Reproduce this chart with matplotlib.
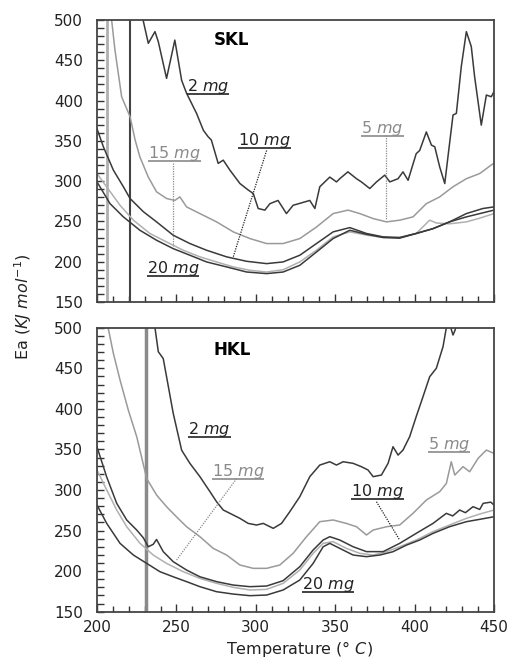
import matplotlib
matplotlib.use("Agg")
import matplotlib.pyplot as plt
from matplotlib.ticker import MultipleLocator

plt.rcParams["font.family"] = ["DejaVu Sans"]
plt.rcParams["mathtext.fontset"] = "dejavusans"

# ---------- SKL (top panel) ----------
skl_2mg_t = [229, 232.3, 236.5, 238.6, 243.8, 249, 253.3, 256.4, 262.7, 267, 270, 272, 276.3, 279.5,
             283.7, 290, 295.2, 298.4, 301.5, 305.7, 308.9, 314, 319.3, 323.5, 334, 337.2, 340.3,
             346.6, 350.8, 352.9, 358, 363.4, 366.5, 371.8, 376, 381.2, 384.4, 389.6, 392.7, 395.9,
             401, 403.2, 407.4, 410.6, 412.7, 415.8, 419, 421, 424.2, 426.3, 429.4, 432.6, 435.7,
             437.8, 442, 445.2, 448.3, 450]
skl_2mg_ea = [500, 471, 485.5, 473, 427.5, 475, 425, 409, 384, 363, 355, 351, 322, 326,
              313.6, 297, 289, 284.6, 266, 264, 272, 276, 259.7, 270, 276, 266, 293,
              305, 299, 303, 311.5, 303, 299, 290.8, 299, 307.4, 299, 303, 311.5, 301,
              334, 338, 361, 344.7, 342.6, 317.7, 297, 330, 382, 384, 442, 485.5, 467,
              429.6, 369.5, 406.8, 404.7, 411]

skl_5mg_t = [209.2, 211.3, 215.5, 220.8, 224, 227, 232.3, 237.5, 243.8, 249, 252.2, 256.4, 264.8,
             275.3, 285.8, 296.3, 306.8, 317.2, 327.7, 338.2, 348.7, 358.1, 365.5, 373.9, 382.3,
             390.6, 399, 407.4, 415.8, 424.2, 432.6, 441, 448.3, 450]
skl_5mg_ea = [500, 462.7, 404.7, 380, 351, 330, 305, 286.7, 278.4, 276, 280.4, 268, 259.7,
              249.4, 237, 228.7, 222.5, 222.5, 228.7, 243, 259.7, 264, 259.7, 253.5, 249.4,
              251.5, 255.6, 272, 280.4, 293, 303, 309.4, 320, 322]

skl_10mg_t = [200, 204, 210.3, 216.6, 220.8, 229.2, 237.5, 248, 258.5, 269, 281.6, 294.2, 306.8,
              317.2, 327.7, 338.2, 348.7, 359.2, 369.7, 380.2, 390.6, 401, 411.6, 422, 432.6, 443, 450]
skl_10mg_ea = [365, 342.6, 313.6, 293, 278.4, 262, 249.4, 232.8, 222.5, 214.2, 206, 200.5, 197.6,
               199.7, 208, 222.5, 237, 242.3, 235, 230.8, 230, 235, 241, 249.4, 259.7, 266, 268]

skl_15mg_t = [200, 206, 214.5, 222.9, 233.3, 243.8, 254.3, 264.8, 275.3, 285.8, 296.3, 306.8,
              317.2, 327.7, 338.2, 348.7, 359.2, 369.7, 380.2, 390.6, 401, 409.5, 413.7, 422,
              432.6, 441, 450]
skl_15mg_ea = [309.4, 293, 270, 251.5, 235, 224.5, 214.2, 206, 199.7, 193.5, 189.3, 187.2,
               190, 199.7, 214.2, 230.8, 237, 233, 230, 230, 235, 251.5, 248, 247,
               249.4, 254, 259.7]

skl_20mg_t = [200, 208.2, 216.6, 227, 237.5, 248, 258.5, 269, 281.6, 294.2, 306.8, 317.2, 327.7,
              338.2, 348.7, 359.2, 369.7, 380.2, 390.6, 401, 411.6, 422, 432.6, 450]
skl_20mg_ea = [299, 272, 255.6, 239, 226.6, 216.2, 208, 199.7, 193.5, 187.2, 185.2, 187.2, 195.5,
               212, 228.7, 239, 234, 230, 229.2, 235, 241, 249.4, 255.6, 264]

# ---------- HKL (bottom panel) ----------
hkl_2mg_t = [236.5, 238.6, 241.7, 243.8, 248, 253.3, 258.5, 264.8, 271.1, 275.3, 279.5, 283.7,
             290, 295.2, 300.5, 304.7, 311, 316.2, 321.4, 327.7, 334, 340.3, 346.6, 350.8, 355,
             361.3, 366.5, 370.7, 373.9, 379.1, 383.3, 386.4, 389.6, 392.7, 396.9, 401, 405.3,
             409.5, 413.7, 417.9, 420, 422, 424.2, 425.5, 427]
hkl_2mg_ea = [500, 470.4, 462, 439.6, 394.4, 349, 332.8, 316.4, 298, 285.5, 275.3, 271.2,
              265, 258.8, 256.8, 258.8, 252.7, 258.8, 273.2, 291.7, 316.4, 330.7, 334.8, 330.7, 334.8,
              332.8, 328.7, 324.6, 316.4, 318.4, 332.8, 353.3, 343, 349.2, 365.7, 390.3, 415,
              439.6, 450, 476.6, 500, 505, 491, 497, 510]

hkl_5mg_t = [207, 210.3, 214.5, 219.7, 225, 231.3, 237.5, 243.8, 250, 256.4, 264.8, 273.2, 281.6,
             290, 298.4, 306.8, 315.1, 323.5, 331.9, 340.3, 348.7, 357, 363.4, 369.7, 373.9, 382.3,
             390.6, 399, 407.4, 415.8, 420, 423.1, 425.3, 430.5, 434.7, 440, 445.2, 450]
hkl_5mg_ea = [500, 468.4, 435.5, 398.5, 365.7, 314, 293.8, 279.4, 267, 254.7, 242.4, 228, 219.8,
              207.5, 203.4, 203.4, 207.5, 221.9, 242.4, 260.9, 263, 258.8, 254.7, 244.5, 250.6, 254.7,
              256.8, 271.2, 287.6, 297.9, 308, 334.8, 318.4, 328.7, 322.5, 339, 349.2, 345]

hkl_10mg_t = [200, 206.1, 212.4, 218.7, 225, 229.2, 232.3, 235.4, 237.5, 241.7, 248, 256.4, 264.8,
              275.3, 285.8, 296.3, 306.8, 317.2, 327.7, 336.1, 342.4, 346.6, 352.9, 361.3, 369.7,
              380.2, 390.6, 401, 411.6, 420, 424, 428.4, 432, 436.8, 441, 443.2, 448, 450]
hkl_10mg_ea = [353, 316, 283.5, 263, 250.6, 241, 230, 233, 239, 224, 211.6, 201.3, 193,
               187, 182.8, 180.8, 181.6, 188.2, 205.4, 226, 238.3, 242.4, 238.3, 230, 224,
               224, 234.2, 246.5, 258.8, 271.2, 268, 275.3, 272, 279.4, 276, 283.5, 285, 281.4]

hkl_15mg_t = [200, 206.1, 212.4, 218.7, 227.1, 235.4, 243.8, 254.3, 264.8, 275.3, 285.8, 296.3,
              306.8, 317.2, 327.7, 336.1, 342.4, 348.7, 357, 365.5, 373.9, 382.3, 390.6, 401,
              411.6, 422, 432.6, 441, 450]
hkl_15mg_ea = [324.6, 300, 275.3, 254.7, 234.2, 219.8, 209.5, 199.3, 191, 184.9, 180, 176.7,
               177.5, 184.9, 201.3, 221.9, 234.2, 236.3, 228, 221.9, 219.8, 223.9, 230, 238.3,
               248.6, 256.8, 265, 270.3, 275.3]

hkl_20mg_t = [200, 206.1, 214.5, 222.9, 231.3, 239.6, 248, 256.4, 264.8, 275.3, 285.8, 296.3,
              306.8, 317.2, 327.7, 336.1, 342.4, 346.6, 352.9, 361.3, 369.7, 378.1, 386.4, 394.8,
              403.2, 411.6, 422, 432.6, 441, 450]
hkl_20mg_ea = [281.4, 258.8, 234.2, 219.8, 209.5, 199.3, 193, 187, 180.8, 174.6, 171.7, 169.7,
               170.5, 176.7, 189, 209.5, 230, 234.2, 228, 219.8, 217.8, 219.8, 223.9, 232,
               238.3, 246.5, 254.7, 260.9, 263.8, 267]

vlines_skl = [206.5, 220.8]
vlines_hkl = [230.6]

DARK = "#3a3a3a"
MID = "#9a9a9a"
LIGHT = "#b0b0b0"
LW = 1.1

fig = plt.figure(figsize=(5.09, 6.65), dpi=100)
ax1 = fig.add_axes([0.1906, 0.5459, 0.7799, 0.4241])
ax2 = fig.add_axes([0.1906, 0.0802, 0.7799, 0.4270])

for ax in (ax1, ax2):
    ax.set_xlim(200, 450)
    ax.set_ylim(150, 500)
    ax.xaxis.set_major_locator(MultipleLocator(50))
    ax.xaxis.set_minor_locator(MultipleLocator(10))
    ax.yaxis.set_major_locator(MultipleLocator(50))
    ax.yaxis.set_minor_locator(MultipleLocator(10))
    ax.tick_params(which="both", direction="in", colors="#333333", labelsize=11, width=1)
    ax.tick_params(which="major", length=6)
    ax.tick_params(which="minor", length=4)
    ax.tick_params(axis="y", which="both", length=5, pad=10)
    ax.tick_params(axis="x", which="both", pad=6)
    ax.tick_params(axis="both", labelcolor="#222222")
    for s in ax.spines.values():
        s.set_color("#444444")
        s.set_linewidth(1.3)

ax1.tick_params(axis="x", labelbottom=False)

# top panel
ax1.axvline(vlines_skl[0], color=LIGHT, lw=2)
ax1.axvline(vlines_skl[1], color="#444444", lw=1.5)
ax1.plot(skl_5mg_t, skl_5mg_ea, color=MID, lw=LW)
ax1.plot(skl_15mg_t, skl_15mg_ea, color=LIGHT, lw=LW)
ax1.plot(skl_20mg_t, skl_20mg_ea, color=DARK, lw=LW)
ax1.plot(skl_10mg_t, skl_10mg_ea, color=DARK, lw=LW)
ax1.plot(skl_2mg_t, skl_2mg_ea, color=DARK, lw=LW)

# bottom panel
ax2.axvline(vlines_hkl[0], color="#8a8a8a", lw=2.5)
ax2.plot(hkl_5mg_t, hkl_5mg_ea, color=MID, lw=LW)
ax2.plot(hkl_15mg_t, hkl_15mg_ea, color=LIGHT, lw=LW)
ax2.plot(hkl_20mg_t, hkl_20mg_ea, color=DARK, lw=LW)
ax2.plot(hkl_10mg_t, hkl_10mg_ea, color=DARK, lw=LW)
ax2.plot(hkl_2mg_t, hkl_2mg_ea, color=DARK, lw=LW)

ax1.text(285, 475, "SKL", fontsize=12, fontweight="bold", ha="center", va="center")
ax2.text(285, 472, "HKL", fontsize=12, fontweight="bold", ha="center", va="center")

labels = []


def mg_label(ax, x, y, s, color, pointer=None):
    t = ax.text(x, y, s + r" $\it{mg}$", fontsize=11.5, color=color, ha="left", va="center")
    labels.append((ax, t, color))
    if pointer is not None:
        (x0, y0), (x1, y1) = pointer
        ax.plot([x0, x1], [y0, y1], color=color, lw=0.9, ls=(0, (1, 1)))


mg_label(ax1, 256.4, 417, "2", "#222222")
mg_label(ax1, 232.3, 334, "15", "#8a8a8a", ((248, 322), (248, 220)))
mg_label(ax1, 289, 351, "10", "#222222", ((306.8, 338), (285.8, 206)))
mg_label(ax1, 366.5, 365, "5", "#8a8a8a", ((382.3, 357), (382.3, 251.5)))
mg_label(ax1, 231.3, 191.5, "20", "#222222")

mg_label(ax2, 257.5, 374, "2", "#222222")
mg_label(ax2, 272.1, 322.5, "15", "#8a8a8a", ((287.9, 314), (250.1, 213.6)))
mg_label(ax2, 408.5, 355.5, "5", "#8a8a8a")
mg_label(ax2, 360.2, 298, "10", "#222222", ((376, 285.5), (390.6, 238.3)))
mg_label(ax2, 328.8, 183, "20", "#222222")

# underline the mass labels
fig.canvas.draw()
renderer = fig.canvas.get_renderer()
for ax, t, color in labels:
    bb = t.get_window_extent(renderer)
    inv = ax.transData.inverted()
    (xa, ya), (xb, yb) = inv.transform([(bb.x0, bb.y0 + 2), (bb.x1, bb.y0 + 2)])
    ax.plot([xa, xb], [ya, yb], color=color, lw=1.2, solid_capstyle="butt")

fig.text(0.045, 0.538, r"Ea ($\it{KJ\ mol^{-1}}$)", rotation=90, fontsize=11.5,
         ha="center", va="center", color="#222222")
fig.text(0.588, 0.024, r"Temperature (° $\it{C}$)", fontsize=11.5, ha="center", va="center",
         color="#222222")

fig.savefig("out.png", dpi=100)
